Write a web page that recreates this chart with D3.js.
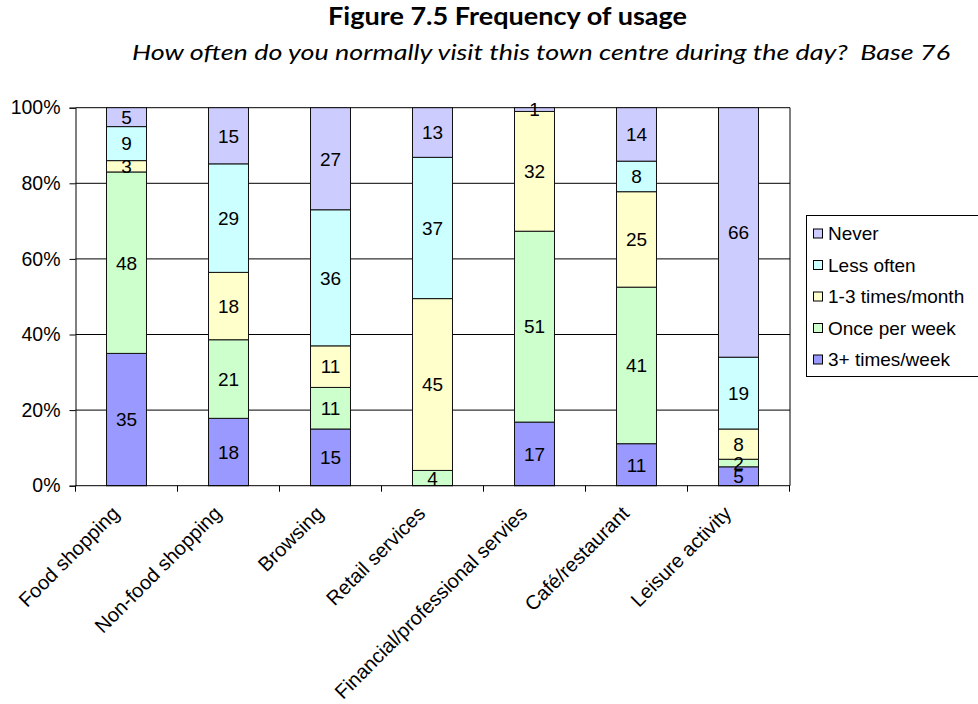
<!DOCTYPE html>
<html>
<head>
<meta charset="utf-8">
<script src="https://cdn.jsdelivr.net/npm/d3@7"></script>
<style>
  html, body { margin: 0; padding: 0; background: #fff; }
  svg { display: block; }
  text { font-family: "Liberation Sans", Arial, sans-serif; fill: #000; }
</style>
</head>
<body>
<svg id="chart" width="978" height="704"></svg>
<script>
// Activities asked about
const categories = [
  "Food shopping", "Non-food shopping", "Browsing", "Retail services",
  "Financial/professional servies", "Café/restaurant", "Leisure activity"
];

// Frequency bands, bottom of the stack first
const seriesNames = ["3+ times/week", "Once per week", "1-3 times/month", "Less often", "Never"];
const seriesColors = ["#9999FF", "#CCFFCC", "#FFFFCC", "#CCFFFF", "#CCCCFF"];

// Percentage of respondents per band, one entry per activity
const threePlusWeek   = [35, 18, 15, 0, 17, 11, 5];
const oncePerWeek     = [48, 21, 11, 4, 51, 41, 2];
const oneToThreeMonth = [3, 18, 11, 45, 32, 25, 8];
const lessOften       = [9, 29, 36, 37, 0, 8, 19];
const never           = [5, 15, 27, 13, 1, 14, 66];

const yTicks = [0, 0.2, 0.4, 0.6, 0.8, 1];

const titleText = "Figure 7.5 Frequency of usage";
const subtitleText = "How often do you normally visit this town centre during the day?  Base 76";

const seriesValues = [threePlusWeek, oncePerWeek, oneToThreeMonth, lessOften, never];
const rows = categories.map((c, i) => {
  const r = { category: c };
  seriesNames.forEach((s, j) => { r[s] = seriesValues[j][i]; });
  return r;
});

const svg = d3.select("#chart");

const plot = { left: 75.5, right: 789.5, top: 107.7, bottom: 485.7 };

const x = d3.scaleBand()
  .domain(categories)
  .range([plot.left, plot.right])
  .paddingInner(0.608)
  .paddingOuter(0.304);

const y = d3.scaleLinear().domain([0, 1]).range([plot.bottom, plot.top]);

const stack = d3.stack().keys(seriesNames).offset(d3.stackOffsetExpand);
const stacked = stack(rows);

// Title and subtitle
svg.append("text")
  .attr("x", 328).attr("y", 25)
  .attr("textLength", 359).attr("lengthAdjust", "spacingAndGlyphs")
  .style("font-family", "Lato, 'Open Sans', sans-serif")
  .style("font-weight", "bold").style("font-size", "24px")
  .text(titleText);

svg.append("text")
  .attr("x", 132).attr("y", 60)
  .attr("textLength", 818).attr("lengthAdjust", "spacingAndGlyphs")
  .style("font-family", "Lato, 'Open Sans', sans-serif")
  .style("font-style", "italic").style("font-size", "22px")
  .style("white-space", "pre")
  .text(subtitleText);

// Horizontal gridlines
svg.append("g")
  .selectAll("line")
  .data(yTicks.filter(d => d > 0 && d < 1))
  .join("line")
  .attr("x1", plot.left).attr("x2", plot.right + 0.5)
  .attr("y1", d => y(d)).attr("y2", d => y(d))
  .attr("stroke", "#000").attr("stroke-width", 1);

// Plot area frame (top and right)
svg.append("path")
  .attr("d", `M${plot.left},${y(1)}H${plot.right + 0.5}V${plot.bottom}`)
  .attr("fill", "none").attr("stroke", "#000").attr("stroke-width", 1);

// Stacked bars
const layers = svg.append("g")
  .selectAll("g")
  .data(stacked)
  .join("g")
  .attr("fill", (d, i) => seriesColors[i]);

layers.selectAll("rect")
  .data(d => d.filter(p => p.data[d.key] > 0))
  .join("rect")
  .attr("x", d => x(d.data.category))
  .attr("width", x.bandwidth())
  .attr("y", d => y(d[1]))
  .attr("height", d => y(d[0]) - y(d[1]))
  .attr("stroke", "#111").attr("stroke-width", 1);

// Value labels inside segments
const labels = svg.append("g")
  .style("font-size", "19px")
  .attr("text-anchor", "middle");

stacked.forEach(layer => {
  layer.forEach(p => {
    const v = p.data[layer.key];
    if (v > 0) {
      labels.append("text")
        .attr("x", x(p.data.category) + x.bandwidth() / 2)
        .attr("y", (y(p[0]) + y(p[1])) / 2)
        .attr("dy", "0.36em")
        .text(v);
    }
  });
});

// Y axis
const yAxis = svg.append("g")
  .attr("transform", `translate(${plot.left},0)`)
  .call(d3.axisLeft(y).tickValues(yTicks).tickFormat(d3.format(".0%")).tickSize(6).tickPadding(9));
yAxis.selectAll("text").style("font-size", "19.5px").style("font-family", "'Liberation Sans', Arial, sans-serif");
yAxis.selectAll("line, path").attr("stroke", "#000");

// X axis: baseline, boundary ticks and rotated category names
const step = x.step();
const boundaries = d3.range(categories.length + 1).map(i => plot.left + i * step);
const xAxis = svg.append("g");
xAxis.append("line")
  .attr("x1", plot.left).attr("x2", plot.right + 0.5)
  .attr("y1", plot.bottom).attr("y2", plot.bottom)
  .attr("stroke", "#000");
xAxis.selectAll("line.tick")
  .data(boundaries)
  .join("line")
  .attr("class", "tick")
  .attr("x1", d => d).attr("x2", d => d)
  .attr("y1", plot.bottom).attr("y2", plot.bottom + 6)
  .attr("stroke", "#000");
xAxis.selectAll("text")
  .data(categories)
  .join("text")
  .attr("transform", d => `translate(${x(d) + x.bandwidth() / 2 - 6},${plot.bottom + 29}) rotate(-45)`)
  .attr("text-anchor", "end")
  .style("font-size", "20px")
  .text(d => d);

// Legend, top entry is the top of the stack
const legend = svg.append("g");
legend.append("rect")
  .attr("x", 806.5).attr("y", 215.5)
  .attr("width", 200).attr("height", 161)
  .attr("fill", "#fff").attr("stroke", "#000");

const legendOrder = seriesNames.map((s, i) => ({ name: s, color: seriesColors[i] })).reverse();
const item = legend.selectAll("g.item")
  .data(legendOrder)
  .join("g")
  .attr("class", "item")
  .attr("transform", (d, i) => `translate(0,${233.5 + i * 31.5})`);
item.append("rect")
  .attr("x", 813.5).attr("y", -4.5)
  .attr("width", 9).attr("height", 9)
  .attr("fill", d => d.color).attr("stroke", "#000");
item.append("text")
  .attr("x", 828).attr("dy", "0.36em")
  .style("font-size", "19px")
  .text(d => d.name);
</script>
</body>
</html>
